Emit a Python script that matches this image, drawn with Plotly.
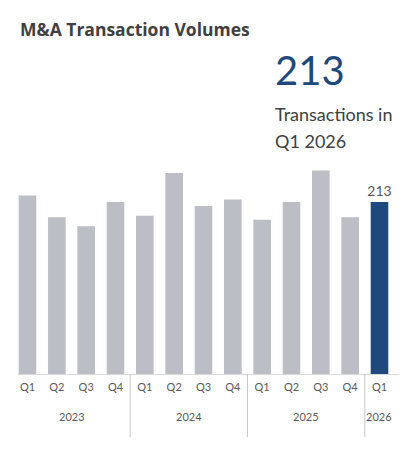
import plotly.graph_objects as go

years = ["2023"] * 4 + ["2024"] * 4 + ["2025"] * 4 + ["2026"]
quarters = ["Q1", "Q2", "Q3", "Q4"] * 3 + ["Q1"]
volumes = [221, 194, 183, 213, 196, 249, 208, 216, 191, 213, 252, 194, 213]

GREY = "#BBBEC5"
BLUE = "#1F497D"
n = len(volumes)
last = n - 1
idx = list(range(n))
colors = [BLUE if i == last else GREY for i in idx]
labels = [str(v) if i == last else "" for i, v in enumerate(volumes)]

fig = go.Figure(
    go.Bar(
        x=idx,
        y=volumes,
        width=0.6,
        marker=dict(color=colors, line=dict(width=0)),
        text=labels,
        textposition="outside",
        constraintext="none",
        textfont=dict(family="Lato", size=14, color="#595959"),
        cliponaxis=False,
        hoverinfo="skip",
    )
)

fig.update_layout(
    width=418,
    height=452,
    margin=dict(l=10, r=27, t=152, b=86),
    paper_bgcolor="white",
    plot_bgcolor="white",
    showlegend=False,
    font=dict(family="Lato", color="#595959"),
)
fig.update_xaxes(
    range=[-0.324, 12.665],
    tickmode="array",
    tickvals=idx,
    ticktext=quarters,
    showline=True,
    linecolor="#D9D9D9",
    linewidth=1,
    showgrid=False,
    zeroline=False,
    ticks="",
    ticklabelstandoff=3,
    tickfont=dict(size=11, color="#595959"),
    automargin=False,
)
fig.update_yaxes(visible=False, range=[0, 265])

# year group labels and dividers
groups = []
for i, y in enumerate(years):
    if not groups or groups[-1][0] != y:
        groups.append([y, i, i])
    else:
        groups[-1][2] = i
for y, a, b in groups:
    fig.add_annotation(
        text=y, x=(a + b) / 2, xref="x", y=0, yref="paper",
        yshift=-42, yanchor="middle", showarrow=False,
        font=dict(family="Lato", size=11, color="#595959"),
    )
for y, a, b in groups[1:]:
    fig.add_shape(
        type="line", xref="x", yref="paper",
        x0=a - 0.5, x1=a - 0.5, y0=0, y1=-0.295,
        line=dict(color="#C8C8C8", width=1),
    )

fig.add_annotation(
    text="<b>M&A Transaction Volumes</b>",
    xref="paper", yref="paper", x=0.0, y=1.0, yshift=131,
    xanchor="left", yanchor="middle", showarrow=False,
    font=dict(family="Open Sans", size=17.5, color="#404040"),
)
fig.add_annotation(
    text=str(volumes[last]),
    xref="paper", yref="paper", x=0.669, y=1.0, yshift=90,
    xanchor="left", yanchor="middle", showarrow=False,
    font=dict(family="Lato", size=40, color=BLUE),
)
fig.add_annotation(
    text="Transactions in",
    xref="paper", yref="paper", x=0.669, y=1.0, yshift=46,
    xanchor="left", yanchor="middle", showarrow=False,
    font=dict(family="Lato", size=18, color="#404040"),
)
fig.add_annotation(
    text=f"{quarters[last]} {years[last]}",
    xref="paper", yref="paper", x=0.669, y=1.0, yshift=19,
    xanchor="left", yanchor="middle", showarrow=False,
    font=dict(family="Lato", size=18, color="#404040"),
)

fig.write_html("out.html")
